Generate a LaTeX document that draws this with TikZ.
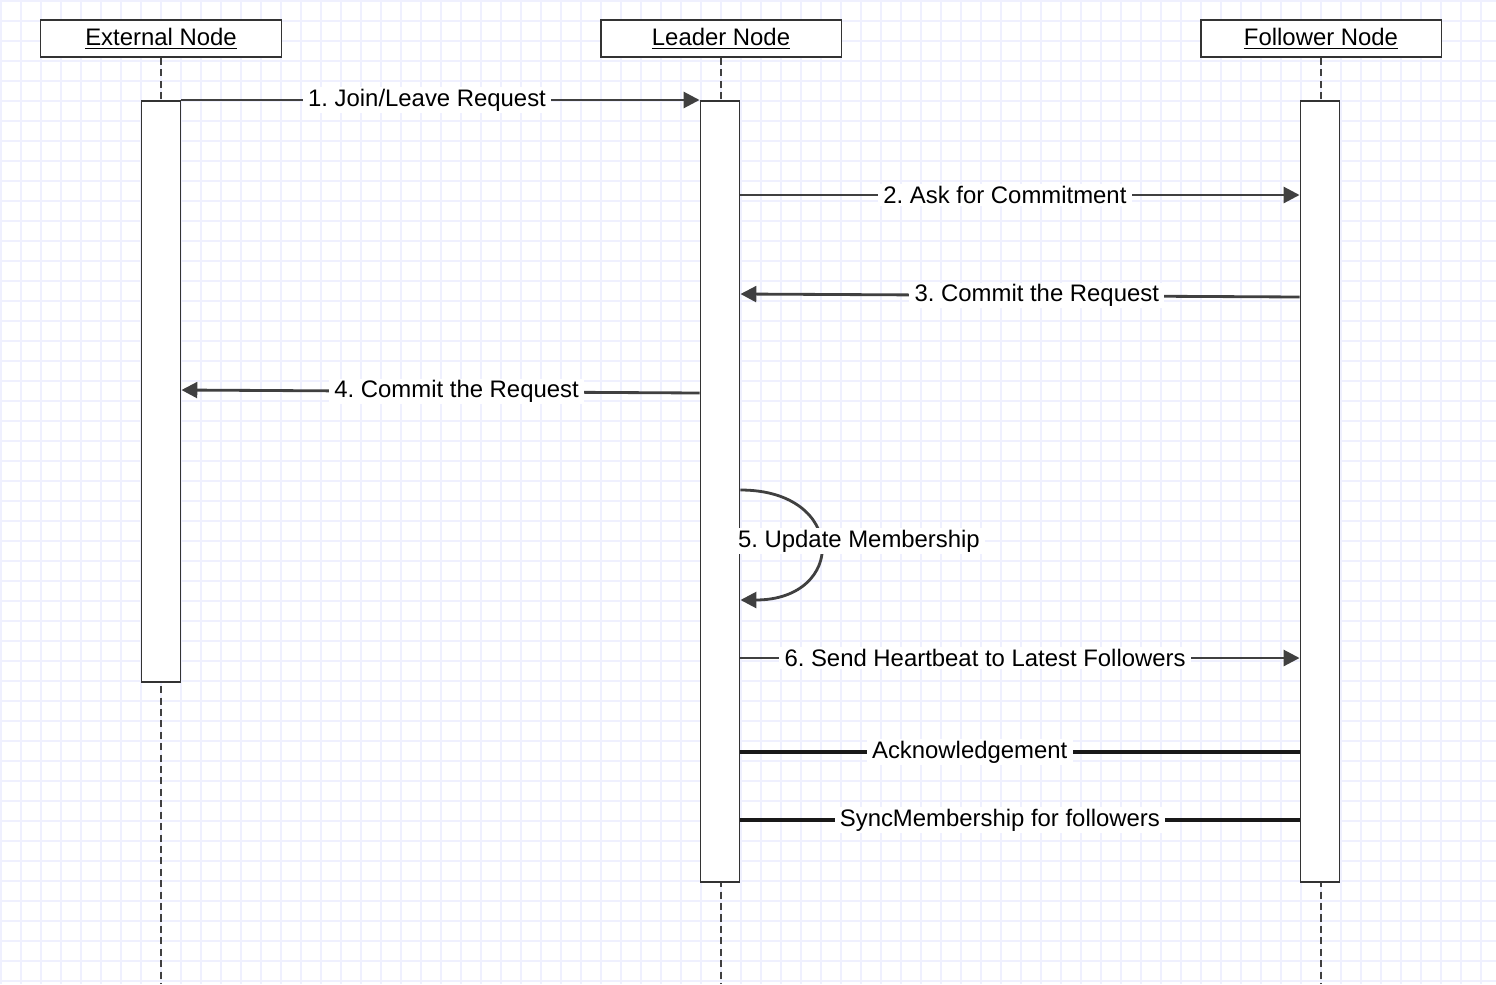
\documentclass[tikz,border=0pt]{standalone}
\usepackage{fontspec}
\setmainfont{Liberation Sans}
\frenchspacing
\usetikzlibrary{arrows.meta,calc}
\definecolor{gridblue}{RGB}{239,240,254}

\begin{document}
\begin{tikzpicture}[x=0.02cm,y=-0.02cm]
\tikzset{actor/.style = {shape=rectangle,draw=black!80,line width=1.1pt,fill=white,minimum width=4.82cm,minimum height=0.74cm,inner sep=0pt,font=\fontsize{13.6}{16}\selectfont}}
\tikzset{bar/.style = {shape=rectangle,draw=black!80,line width=1.1pt,fill=white,minimum width=0.78cm,inner sep=0pt,anchor=north}}
\tikzset{life/.style = {draw=black!75,line width=1.1pt,dash pattern=on 4pt off 2.5pt}}
\tikzset{msg/.style = {draw=black!75,line width=1.6pt,-{Triangle[length=9pt,width=9pt]}}}
\tikzset{sync/.style = {draw=black!90,line width=2.3pt}}
\tikzset{lbl/.style = {fill=white,inner xsep=3pt,inner ysep=1pt,font=\fontsize{13.6}{16}\selectfont,text=black}}
\tikzset{gridline/.style = {draw=gridblue,line width=1pt}}

\useasboundingbox (0,0) rectangle (1496,984);
\fill[white] (0,0) rectangle (1496,984);
\foreach \i in {1,21,...,1481} \draw[gridline] (\i,0) -- (\i,984);
\foreach \j in {1,21,...,981} \draw[gridline] (0,\j) -- (1496,\j);

% lifelines
\node[actor] (ext) at (161,38.5) {\underline{External Node}};
\node[actor] (lead) at (721,38.5) {\underline{Leader Node}};
\node[actor] (foll) at (1321,38.5) {\underline{Follower Node}};
\coordinate (extend) at (161,984);
\coordinate (leadend) at (721,984);
\coordinate (follend) at (1321,984);
\draw[life] (ext) -- (extend);
\draw[life] (lead) -- (leadend);
\draw[life] (foll) -- (follend);

\node[bar,minimum height=11.62cm] (extbar) at (161,100) {};
\node[bar,minimum height=15.62cm] (leadbar) at (720,100) {};
\node[bar,minimum height=15.62cm] (follbar) at (1320,100) {};

% messages
\draw[msg] (extbar.north east) -- node[lbl,pos=.474] {1. Join/Leave Request} (leadbar.north west);
\draw[msg] (leadbar.east |- 0,195) -- node[lbl,pos=.473] {2. Ask for Commitment} (follbar.west |- 0,195);
\draw[msg] (follbar.west |- 0,297) -- node[lbl,pos=.47] {3. Commit the Request} (leadbar.east |- 0,294);
\draw[msg] (leadbar.west |- 0,393) -- node[lbl,pos=.469] {4. Commit the Request} (extbar.east |- 0,390);

\draw[msg] (leadbar.east |- 0,490) .. controls (847,490) and (847,600) .. (leadbar.east |- 0,600);
\node[lbl,anchor=west,xshift=-0.16cm] (upd) at (leadbar.east |- 0,541) {5. Update Membership};

\draw[msg] (leadbar.east |- 0,658) -- node[lbl,pos=.4375] {6. Send Heartbeat to Latest Followers} (follbar.west |- 0,658);
\draw[sync] (leadbar.east |- 0,752) -- node[lbl,pos=.41] {Acknowledgement} (follbar.west |- 0,752);
\draw[sync] (leadbar.east |- 0,820) -- node[lbl,pos=.464] {SyncMembership for followers} (follbar.west |- 0,820);

\end{tikzpicture}
\end{document}
